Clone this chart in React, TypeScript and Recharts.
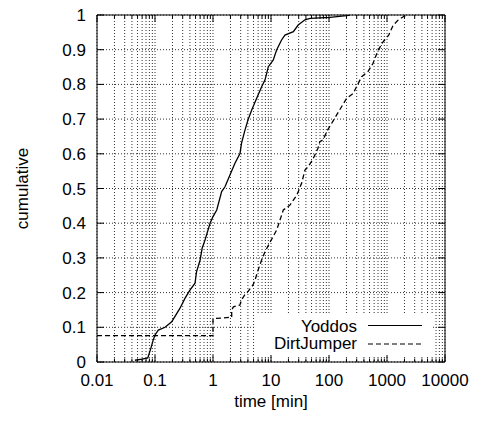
import { LineChart, Line, XAxis, YAxis, CartesianGrid, Legend } from "recharts"

// Yoddos CDF (time in minutes, cumulative fraction)
const yoddosTime = [
  0.045, 0.06, 0.075, 0.085, 0.093, 0.1, 0.114, 0.149, 0.194, 0.22, 0.27, 0.33, 0.4, 0.49, 0.52, 0.6, 0.65,
  0.73, 0.89, 1.0, 1.16, 1.41, 1.61, 1.96, 2.39, 2.92, 3.1, 3.5, 4.0, 4.65, 5.66, 6.9, 7.9, 9.0, 10.9, 12.5,
  15.2, 17.4, 24.3, 29.4, 38.5, 47, 104, 200, 230,
]
const yoddosCum = [
  0.005, 0.008, 0.012, 0.04, 0.063, 0.078, 0.092, 0.1, 0.116, 0.131, 0.155, 0.184, 0.207, 0.227, 0.26, 0.294,
  0.328, 0.352, 0.4, 0.419, 0.438, 0.491, 0.505, 0.539, 0.573, 0.601, 0.63, 0.664, 0.697, 0.726, 0.76, 0.793,
  0.813, 0.851, 0.87, 0.899, 0.928, 0.942, 0.952, 0.971, 0.986, 0.99, 0.993, 0.998, 1.0,
]

// DirtJumper CDF
const dirtTime = [
  0.01, 1.0, 1.0, 2.1, 2.1, 2.25, 2.9, 3.1, 3.5, 4.0, 4.9, 5.3, 6.0, 6.9, 7.9, 9.6, 12.5, 14.3, 16.3, 21.2,
  27.9, 33.7, 38.5, 43.6, 52, 64.5, 69.5, 78.6, 95, 118, 152, 202, 262, 298, 365, 470, 575, 705, 860, 1070,
  1280, 1570, 1910, 2230,
]
const dirtCum = [
  0.076, 0.076, 0.125, 0.129, 0.15, 0.159, 0.164, 0.179, 0.193, 0.203, 0.222, 0.236, 0.265, 0.294, 0.318,
  0.345, 0.38, 0.409, 0.438, 0.452, 0.481, 0.515, 0.553, 0.563, 0.582, 0.616, 0.635, 0.64, 0.669, 0.695,
  0.726, 0.76, 0.774, 0.793, 0.822, 0.837, 0.861, 0.899, 0.923, 0.942, 0.971, 0.986, 0.995, 1.0,
]

const majorX = [0.01, 0.1, 1, 10, 100, 1000, 10000]
const yTicks = [0, 0.1, 0.2, 0.3, 0.4, 0.5, 0.6, 0.7, 0.8, 0.9, 1]

const minorX = majorX.slice(0, -1).flatMap((m) => [2, 3, 4, 5, 6, 7, 8, 9].map((k) => +(m * k).toPrecision(3)))
const allX = [...majorX, ...minorX].sort((a, b) => a - b)

const yoddosData = yoddosTime.map((x, i) => ({ x, y: yoddosCum[i] }))
const dirtData = dirtTime.map((x, i) => ({ x, y: dirtCum[i] }))

const FONT = "'Liberation Sans', Arial, sans-serif"
const FS = 17

const BottomTick = (props: any) => {
  const { x, y, payload } = props
  const major = majorX.includes(payload.value)
  const axisY = y - 12
  return (
    <g>
      <line x1={x} x2={x} y1={axisY} y2={axisY - (major ? 7 : 3.5)} stroke="#000" />
      {major && (
        <text x={x} y={y} dy="0.71em" textAnchor="middle" fontSize={FS} fontFamily={FONT} fill="#000">
          {String(payload.value)}
        </text>
      )}
    </g>
  )
}

const TopTick = (props: any) => {
  const { x, y, payload } = props
  const major = majorX.includes(payload.value)
  return <line x1={x} x2={x} y1={y} y2={y + (major ? 7 : 3.5)} stroke="#000" />
}

const LeftTick = (props: any) => {
  const { x, y, payload } = props
  const axisX = x + 11
  return (
    <g>
      <line x1={axisX} x2={axisX + 7} y1={y} y2={y} stroke="#000" />
      <text x={x} y={y} dy="0.355em" textAnchor="end" fontSize={FS} fontFamily={FONT} fill="#000">
        {String(payload.value)}
      </text>
    </g>
  )
}

const RightTick = (props: any) => {
  const { x, y } = props
  return <line x1={x} x2={x - 7} y1={y} y2={y} stroke="#000" />
}

const YLabel = (props: any) => {
  const vb = props.viewBox || { x: 0, y: 7, width: 89, height: 347 }
  const cx = vb.x + 20
  const cy = vb.y + vb.height / 2
  return (
    <text x={cx} y={cy} transform={`rotate(-90 ${cx} ${cy})`} textAnchor="middle" fontSize={FS} fontFamily={FONT} fill="#000">
      cumulative
    </text>
  )
}

const XLabel = (props: any) => {
  const vb = props.viewBox || { x: 89, y: 354, width: 348, height: 51 }
  return (
    <text x={vb.x + vb.width / 2} y={vb.y + 45} textAnchor="middle" fontSize={FS} fontFamily={FONT} fill="#000">
      time [min]
    </text>
  )
}

const seriesStyle = [
  { name: "Yoddos", dash: undefined },
  { name: "DirtJumper", dash: "5 3" },
]

const LegendBox = () => (
  <svg width={178} height={40} style={{ display: "block", background: "#fff" }}>
    {seriesStyle.map((s, i) => (
      <g key={s.name}>
        <text x={102} y={17.3 + i * 17} textAnchor="end" fontSize={FS} fontFamily={FONT} fill="#000">
          {s.name}
        </text>
        <line x1={113} x2={167} y1={10.5 + i * 18.5} y2={10.5 + i * 18.5} stroke="#000" strokeWidth={1.2} strokeDasharray={s.dash} />
      </g>
    ))}
  </svg>
)

export default function App() {
  return (
    <LineChart width={464} height={405} margin={{ top: 0, right: 0, bottom: 0, left: 0 }} style={{ fontFamily: FONT }}>
      <CartesianGrid stroke="#333" strokeDasharray="1 2" />
      <XAxis
        xAxisId={0}
        dataKey="x"
        type="number"
        scale="log"
        domain={[0.01, 10000]}
        allowDataOverflow
        ticks={allX}
        interval={0}
        height={51}
        tickSize={0}
        tickMargin={12}
        tickLine={false}
        axisLine={{ stroke: "#000" }}
        tick={<BottomTick />}
        label={<XLabel />}
      />
      <XAxis
        xAxisId="top"
        orientation="top"
        dataKey="x"
        type="number"
        scale="log"
        domain={[0.01, 10000]}
        allowDataOverflow
        ticks={allX}
        interval={0}
        height={7}
        tickSize={0}
        tickMargin={0}
        tickLine={false}
        axisLine={{ stroke: "#000" }}
        tick={<TopTick />}
      />
      <YAxis
        yAxisId={0}
        type="number"
        domain={[0, 1]}
        allowDataOverflow
        ticks={yTicks}
        interval={0}
        width={89}
        tickSize={0}
        tickMargin={11}
        tickLine={false}
        axisLine={{ stroke: "#000" }}
        tick={<LeftTick />}
        label={<YLabel />}
      />
      <YAxis
        yAxisId="right"
        orientation="right"
        type="number"
        domain={[0, 1]}
        allowDataOverflow
        ticks={yTicks}
        interval={0}
        width={27}
        tickSize={0}
        tickMargin={0}
        tickLine={false}
        axisLine={{ stroke: "#000" }}
        tick={<RightTick />}
      />
      <Legend
        layout="vertical"
        align="center"
        verticalAlign="middle"
        content={<LegendBox />}
        wrapperStyle={{ left: 247, top: 307, width: 178, height: 40 }}
      />
      <Line
        data={yoddosData}
        dataKey="y"
        name="Yoddos"
        type="linear"
        stroke="#000"
        strokeWidth={1.3}
        dot={false}
        isAnimationActive={false}
      />
      <Line
        data={dirtData}
        dataKey="y"
        name="DirtJumper"
        type="linear"
        stroke="#000"
        strokeWidth={1.3}
        strokeDasharray="5 3"
        dot={false}
        isAnimationActive={false}
      />
    </LineChart>
  )
}
